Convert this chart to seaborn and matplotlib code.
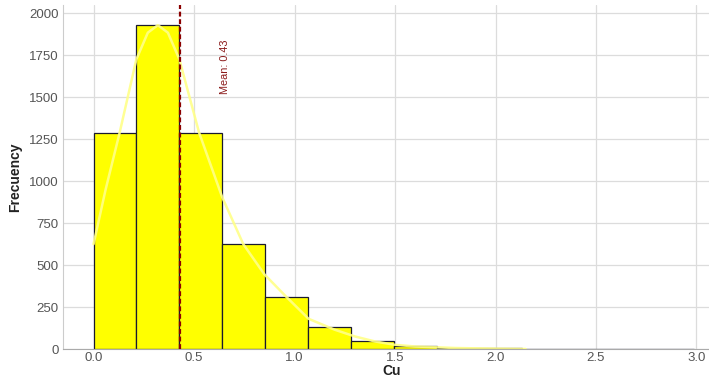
import matplotlib
matplotlib.use("Agg")
import matplotlib.pyplot as plt
import seaborn as sns
import pandas as pd

# Data
cu_bin_centers = [0.107, 0.320, 0.533, 0.747, 0.960, 1.173, 1.387, 1.600,
                  1.813, 2.027, 2.240, 2.453, 2.667, 2.880]
frequencies = [1290, 1930, 1285, 625, 310, 130, 47, 18, 6, 3, 1, 0, 0, 1]
# density curve (scaled to counts)
kde_x = [0.0, 0.06, 0.13, 0.213, 0.27, 0.32, 0.37, 0.427, 0.525, 0.64, 0.745,
         0.85, 0.96, 1.07, 1.2, 1.3, 1.4, 1.5, 1.6, 1.8, 2.0, 2.15]
kde_y = [625, 950, 1290, 1726, 1885, 1930, 1885, 1726, 1290, 905, 625,
         445, 310, 180, 115, 75, 45, 25, 15, 6, 2, 0]
mean_cu = 0.43
x_ticks = [0.0, 0.5, 1.0, 1.5, 2.0, 2.5, 3.0]
y_ticks = [0, 250, 500, 750, 1000, 1250, 1500, 1750, 2000]

df = pd.DataFrame({"Cu": cu_bin_centers, "freq": frequencies})
kde_df = pd.DataFrame({"Cu": kde_x, "dens": kde_y})

sns.set_theme(style="whitegrid")
plt.rcParams['font.family'] = ['Liberation Sans', 'DejaVu Sans']

fig = plt.figure(figsize=(7.09, 3.78), dpi=100)
ax = fig.add_axes([63 / 709, 1 - 349 / 378, 657 / 709, 344 / 378])

sns.histplot(data=df, x="Cu", weights="freq", bins=14, binrange=(0, 2.987),
             color="#ffff00", alpha=1.0, edgecolor="#1a1a2e", linewidth=0.9, ax=ax)
sns.lineplot(data=kde_df, x="Cu", y="dens", color="#ffff88", linewidth=1.8,
             alpha=0.9, ax=ax, zorder=4)

ax.axvline(mean_cu, color="#8b0000", linestyle=(0, (2.2, 1.2)), linewidth=1.6, zorder=5)
ax.text(0.655, 1520, f"Mean: {mean_cu:.2f}", rotation=90, color="#8b1a1a",
        fontsize=7.8, family=['Liberation Sans Narrow', 'Liberation Sans', 'DejaVu Sans'],
        ha="center", va="bottom")

ax.set_xlim(-0.152, 3.117)
ax.set_ylim(0, 2050)
ax.set_xticks(x_ticks)
ax.set_xticklabels([f"{t:.1f}" for t in x_ticks])
ax.set_yticks(y_ticks)
ax.tick_params(axis="both", labelsize=9.5, labelcolor="#555555", length=0)
ax.tick_params(axis="x", pad=2)
ax.tick_params(axis="y", pad=3)
ax.grid(True, color="#dcdcdc", linewidth=0.9)
ax.set_axisbelow(True)
for s in ["top", "right"]:
    ax.spines[s].set_visible(False)
ax.spines["left"].set_color("#cccccc")
ax.spines["bottom"].set_color("#aaaaaa")
ax.spines["left"].set_linewidth(0.8)
ax.spines["bottom"].set_linewidth(0.8)

ax.set_xlabel("Cu", fontsize=10, fontweight="bold", color="#222222", labelpad=0)
ax.set_ylabel("Frecuency", fontsize=10, fontweight="bold", color="#222222", labelpad=5)

fig.savefig("out.png", dpi=100)
